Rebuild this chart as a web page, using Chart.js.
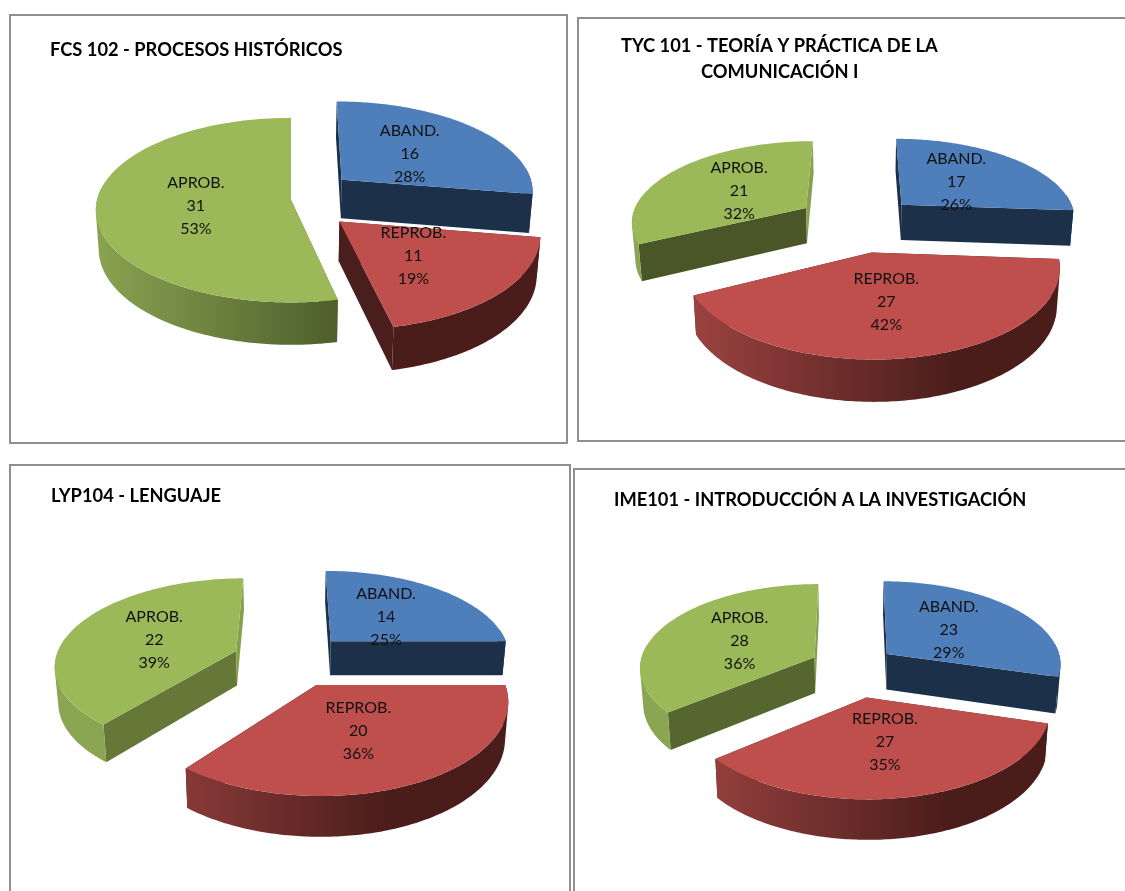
<!DOCTYPE html>
<html>
<head>
<meta charset="utf-8">
<title>Resultados por materia</title>
<script src="https://cdn.jsdelivr.net/npm/chart.js@4"></script>
<style>
  html, body { margin: 0; padding: 0; background: #fff; overflow: hidden; width: 1125px; height: 891px; }
  .panel { position: absolute; box-sizing: border-box; border: 2px solid #8f8f8f; background: #fff; }
  canvas { position: absolute; }
</style>
</head>
<body>
<script>
// Datos
const categories = ['ABAND.', 'REPROB.', 'APROB.'];
const fcsValues = [16, 11, 31];
const tycValues = [17, 27, 21];
const lypValues = [14, 20, 22];
const imeValues = [23, 27, 28];

const fcsTitle = ['FCS 102 - PROCESOS HISTÓRICOS'];
const tycTitle = ['TYC 101 - TEORÍA Y PRÁCTICA DE LA', '                  COMUNICACIÓN I'];
const lypTitle = ['LYP104 - LENGUAJE'];
const imeTitle = ['IME101 - INTRODUCCIÓN A LA INVESTIGACIÓN'];

// Colores de cada porcion
const topColors = ['#4f7fbb', '#be4f4c', '#9bb959'];
const rimColors = [['#2f4e78', '#1d3049'], ['#a04543', '#4a1d1b'], ['#8ba652', '#4d5e2c']];
const rimEnds = [0.5, 0.55, 0.25];
const labelReach = [0.44, 0.53, 0.47];

// Posicion de cada marco y vista 3D de cada torta
const charts = [
    { id: 'fcs', values: fcsValues, title: fcsTitle, left: 9, top: 14, width: 559, height: 430,
      titleX: 50, titleY: 50, cx: 291, cy: 200, radius: 194, tilt: 0.47, persp: 0.11, depth: 39,
      offsets: [68, 65, 0], greenFace: '#4f5f2d', labelShift: [[8, -2], [-8, -2], [-4, 1]] },
    { id: 'tyc', values: tycValues, title: tycTitle, left: 577, top: 17, width: 560, height: 425,
      titleX: 621, titleY: 46, cx: 859, cy: 223, radius: 176, tilt: 0.46, persp: 0.15, depth: 36,
      offsets: [60, 62, 64], greenFace: '#4a5627', labelShift: [[4, -1], [-7, -2], [-3, 1]] },
    { id: 'lyp', values: lypValues, title: lypTitle, left: 9, top: 464, width: 562, height: 440,
      titleX: 51, titleY: 496, cx: 291, cy: 660, radius: 181, tilt: 0.475, persp: 0.15, depth: 35,
      offsets: [58, 56, 59], greenFace: '#667838', labelShift: [[5, 0], [-7, -2], [-6, 2]] },
    { id: 'ime', values: imeValues, title: imeTitle, left: 573, top: 468, width: 570, height: 440,
      titleX: 614, titleY: 500, cx: 853, cy: 666, radius: 175, tilt: 0.475, persp: 0.11, depth: 36,
      offsets: [43, 65, 43], greenFace: '#55662e', labelShift: [[4, -3], [-3, -5], [-4, 0]] }
];

const titleFont = { family: 'Lato', size: 18.3, weight: 'bold', lineHeight: 1.43 };
const labelFont = '16px Lato';
const labelLine = 23;
const greenBackFace = '#86a04b';

// Proyecta un punto del plano de la torta a la pantalla del canvas
function project(view, x, y, z) {
    const w = 1 / (1 - view.persp * y / view.radius);
    return {
        x: view.cx - view.left + x * w * (1 - 0.015 * z),
        y: view.cy - view.top + view.tilt * y * w + z * view.depth * (1 + (w - 1) * 0.7)
    };
}

function slicePoint(view, slice, angle, reach, z) {
    const r = slice.outerRadius * reach;
    return project(view,
        slice.apexX + Math.cos(angle) * r,
        slice.apexY + Math.sin(angle) * r, z);
}

function addPolygon(ctx, points) {
    points.forEach((p, i) => i === 0 ? ctx.moveTo(p.x, p.y) : ctx.lineTo(p.x, p.y));
    ctx.closePath();
}

function tracePath(ctx, points) {
    ctx.beginPath();
    addPolygon(ctx, points);
}

// Todas las tiras con el mismo sentido, para que no se cancelen al rellenar
function sameWinding(points) {
    let area = 0;
    points.forEach((p, i) => {
        const q = points[(i + 1) % points.length];
        area += p.x * q.y - q.x * p.y;
    });
    return area < 0 ? points.slice().reverse() : points;
}

function sliceAngles(slice) {
    const angles = [];
    const steps = Math.ceil((slice.endAngle - slice.startAngle) / 0.015);
    for (let i = 0; i <= steps; i++) {
        angles.push(slice.startAngle + (slice.endAngle - slice.startAngle) * i / steps);
    }
    return angles;
}

function drawSlice(ctx, view, slice) {
    const i = slice.index;
    const apexTop = slicePoint(view, slice, 0, 0, 0);
    const apexBottom = slicePoint(view, slice, 0, 0, 1);
    const faceColor = i === 0 ? '#1d3049' : (i === 1 ? '#4a1e1c' : view.greenFace);
    const angles = sliceAngles(slice);

    // caras del corte
    [slice.startAngle, slice.endAngle].forEach((angle, n) => {
        tracePath(ctx, [apexTop, slicePoint(view, slice, angle, 1, 0), slicePoint(view, slice, angle, 1, 1), apexBottom]);
        ctx.fillStyle = (i === 2 && n === 1) ? greenBackFace : faceColor;
        ctx.fill();
    });

    // borde exterior, por tiras en un solo trazo y solo la parte que mira al frente
    const baseX = view.cx - view.left;
    const gradient = ctx.createLinearGradient(baseX - view.radius * 1.05, 0, baseX + view.radius * rimEnds[i], 0);
    gradient.addColorStop(0, rimColors[i][0]);
    gradient.addColorStop(1, rimColors[i][1]);
    ctx.beginPath();
    for (let n = 0; n < angles.length - 1; n++) {
        if (Math.sin(angles[n]) < -0.15) continue;
        addPolygon(ctx, sameWinding([
            slicePoint(view, slice, angles[n], 1, 0),
            slicePoint(view, slice, angles[n + 1], 1, 0),
            slicePoint(view, slice, angles[n + 1], 1, 1),
            slicePoint(view, slice, angles[n], 1, 1)
        ]));
    }
    ctx.fillStyle = gradient;
    ctx.fill();

    // cara superior
    tracePath(ctx, [apexTop].concat(angles.map(a => slicePoint(view, slice, a, 1, 0))));
    ctx.fillStyle = topColors[i];
    ctx.fill();
}

function drawLabels(ctx, view, slices, values) {
    const total = values.reduce((a, b) => a + b, 0);
    ctx.font = labelFont;
    ctx.fillStyle = '#111';
    ctx.textAlign = 'center';
    ctx.textBaseline = 'middle';
    slices.forEach(slice => {
        const mid = (slice.startAngle + slice.endAngle) / 2;
        const p = slicePoint(view, slice, mid, labelReach[slice.index], 0);
        const shift = view.labelShift[slice.index];
        const lines = [categories[slice.index], values[slice.index], Math.round(values[slice.index] / total * 100) + '%'];
        lines.forEach((text, n) => ctx.fillText(String(text), p.x + shift[0], p.y + shift[1] + (n - 1) * labelLine));
    });
}

// Reemplaza el dibujo plano de las porciones por la version 3D
const pie3d = {
    id: 'pie3d',
    beforeDatasetDraw(chart, args, opts) {
        const view = opts.view;
        const slices = chart.getDatasetMeta(args.index).data.map((arc, index) => {
            const mid = (arc.startAngle + arc.endAngle) / 2;
            const offset = arc.options.offset;
            return {
                index,
                startAngle: arc.startAngle,
                endAngle: arc.endAngle,
                outerRadius: arc.outerRadius,
                apexX: Math.cos(mid) * offset,
                apexY: Math.sin(mid) * offset
            };
        });
        const ctx = chart.ctx;
        slices.slice().sort((a, b) => a.apexY - b.apexY).forEach(slice => drawSlice(ctx, view, slice));
        drawLabels(ctx, view, slices, view.values);
        return false;
    }
};

function createPie(view) {
    const panel = document.createElement('div');
    panel.className = 'panel';
    panel.style.left = view.left + 'px';
    panel.style.top = view.top + 'px';
    panel.style.width = view.width + 'px';
    panel.style.height = view.height + 'px';
    document.body.appendChild(panel);

    const canvas = document.createElement('canvas');
    canvas.id = view.id + 'Chart';
    canvas.width = view.width;
    canvas.height = view.height;
    canvas.style.left = view.left + 'px';
    canvas.style.top = view.top + 'px';
    document.body.appendChild(canvas);

    const lineHeight = titleFont.size * titleFont.lineHeight;
    new Chart(canvas.getContext('2d'), {
        type: 'pie',
        data: {
            labels: categories,
            datasets: [{
                data: view.values,
                backgroundColor: topColors,
                borderWidth: 0,
                offset: view.offsets
            }]
        },
        options: {
            responsive: false,
            animation: false,
            radius: view.radius,
            layout: { padding: { left: view.titleX - view.left } },
            events: [],
            plugins: {
                legend: { display: false },
                tooltip: { enabled: false },
                title: {
                    display: true,
                    text: view.title,
                    align: 'start',
                    color: '#000',
                    font: titleFont,
                    padding: { top: view.titleY - view.top - lineHeight / 2, bottom: 0 }
                },
                pie3d: { view }
            }
        },
        plugins: [pie3d]
    });
}

charts.forEach(createPie);
</script>
</body>
</html>
